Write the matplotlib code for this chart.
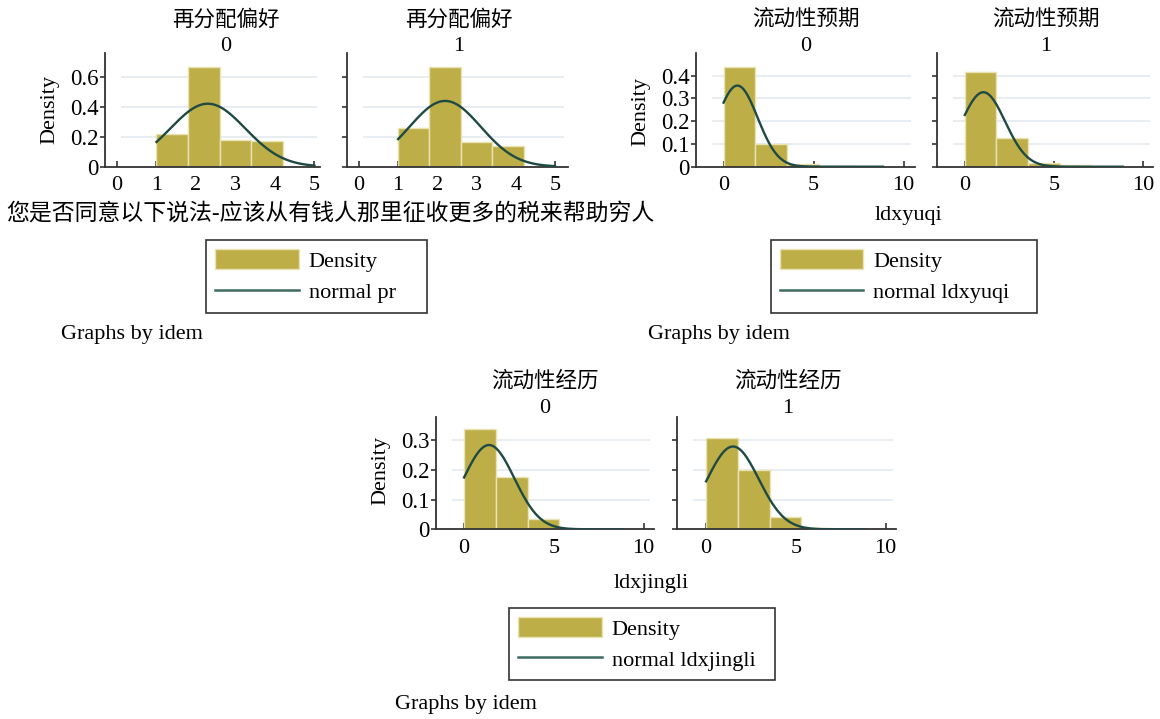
import numpy as np
import matplotlib
matplotlib.use('Agg')
import matplotlib.pyplot as plt
from matplotlib.patches import Patch
from matplotlib.lines import Line2D

plt.rcParams['font.family'] = ['Liberation Serif', 'Noto Sans CJK SC']

W, H = 1160, 719

###########        Data        ###########
#-------------------------------------------------------------#
groups = ['0', '1']

# 再分配偏好 (pr)
pr_title = '再分配偏好'
pr_xlabel = '您是否同意以下说法-应该从有钱人那里征收更多的税来帮助穷人'
pr_edges = [1.0, 1.8, 2.6, 3.4, 4.2, 5.0]
pr_density = [[0.216, 0.667, 0.178, 0.169, 0.0],
              [0.256, 0.667, 0.167, 0.140, 0.0]]
pr_mean = [2.30, 2.20]
pr_sd = [0.95, 0.91]
pr_range = [1.0, 5.0]
pr_xticks = [0, 1, 2, 3, 4, 5]
pr_yticks = [0, 0.2, 0.4, 0.6]

# 流动性预期 (ldxyuqi)
yq_title = '流动性预期'
yq_xlabel = 'ldxyuqi'
yq_edges = [0.0, 1.77, 3.54, 5.31, 7.08, 8.85]
yq_density = [[0.440, 0.100, 0.010, 0.004, 0.003],
              [0.415, 0.125, 0.018, 0.006, 0.0]]
yq_mean = [0.77, 1.04]
yq_sd = [1.12, 1.22]
yq_range = [0.0, 8.85]
yq_xticks = [0, 5, 10]
yq_yticks = [0, 0.1, 0.2, 0.3, 0.4]

# 流动性经历 (ldxjingli)
jl_title = '流动性经历'
jl_xlabel = 'ldxjingli'
jl_edges = [0.0, 1.77, 3.54, 5.31, 7.08, 8.85]
jl_density = [[0.336, 0.177, 0.036, 0.002, 0.002],
              [0.306, 0.199, 0.041, 0.003, 0.002]]
jl_mean = [1.39, 1.50]
jl_sd = [1.41, 1.435]
jl_range = [0.0, 8.85]
jl_xticks = [0, 5, 10]
jl_yticks = [0, 0.1, 0.2, 0.3]

###########              Styling                 ###########
#----------------------------------------------------------#
BAR = '#bdae48'
BAR_EDGE = '#e9e3b4'
CURVE = '#1f4a44'
LEG_LINE = '#3d6b63'
GRID = '#e8edf2'
AXIS = '#333333'
FS = 16


def px_axes(fig, left, top, right, bottom):
    return fig.add_axes([left / W, 1 - bottom / H, (right - left) / W, (bottom - top) / H])


def ftext(fig, x, y, s, **kw):
    kw.setdefault('ha', 'center')
    kw.setdefault('va', 'center')
    return fig.text(x / W, 1 - y / H, s, **kw)


def draw_panel(ax, edges, dens, mu, sd, xr, xlim, ylim, xticks, yticks, labels):
    edges = np.asarray(edges)
    ax.bar(edges[:-1], dens, width=np.diff(edges), align='edge',
           color=BAR, edgecolor=BAR_EDGE, linewidth=1, zorder=2)
    # normal density overlay from the group's mean / sd
    xs = np.linspace(xr[0], xr[1], 300)
    ys = np.exp(-0.5 * ((xs - mu) / sd) ** 2) / (sd * np.sqrt(2 * np.pi))
    ax.plot(xs, ys, color=CURVE, lw=1.7, zorder=3)
    for y in yticks[1:]:
        ax.axhline(y, xmin=0.08, xmax=0.98, color=GRID, lw=1.4, zorder=1)
    ax.set_xlim(*xlim)
    ax.set_ylim(*ylim)
    ax.set_xticks(xticks)
    ax.set_xticklabels([f'{v:g}' for v in xticks])
    ax.set_yticks(yticks)
    ax.set_yticklabels([f'{v:g}' for v in yticks])
    for s in ['top', 'right']:
        ax.spines[s].set_visible(False)
    for s in ['left', 'bottom']:
        ax.spines[s].set_color(AXIS)
        ax.spines[s].set_linewidth(1.3)
    ax.tick_params(axis='x', direction='in', length=4, width=1.2, color=AXIS,
                   labelsize=FS, pad=7)
    ax.tick_params(axis='y', direction='out', length=3.5, width=1.2, color=AXIS,
                   labelsize=FS + 0.5, pad=1, labelleft=labels)
    ax.set_facecolor('none')


def draw_group(fig, boxes, xlims, ylim, edges, density, means, sds, xr,
               xticks, yticks, title, title_x, title_y, dens_xy):
    for i, g in enumerate(groups):
        ax = px_axes(fig, *boxes[i])
        draw_panel(ax, edges, density[i], means[i], sds[i], xr, xlims[i], ylim,
                   xticks, yticks, labels=(i == 0))
        ftext(fig, title_x[i], title_y[0], title, fontsize=15.5)
        ftext(fig, title_x[i], title_y[1], g, fontsize=FS)
    ftext(fig, dens_xy[0], dens_xy[1], 'Density', fontsize=FS, rotation=90)


def draw_legend(fig, box, label):
    left, top, right, bottom = box
    handles = [Patch(facecolor=BAR, edgecolor=BAR_EDGE, linewidth=1),
               Line2D([], [], color=LEG_LINE, lw=1.8)]
    leg = fig.legend(handles, ['Density', label], loc='upper left',
                     bbox_to_anchor=(left / W, 1 - bottom / H, (right - left) / W, (bottom - top) / H),
                     mode='expand', fontsize=FS, frameon=True, fancybox=False,
                     edgecolor='black', handlelength=3.75, handleheight=1.0,
                     handletextpad=0.45, labelspacing=0.4, borderpad=0.42,
                     borderaxespad=0)
    leg.get_frame().set_linewidth(1.2)
    return leg


fig = plt.figure(figsize=(W / 100, H / 100), dpi=100)

###########           再分配偏好 (pr)            ###########
draw_group(fig,
           boxes=[(104.7, 53.3, 320, 166.7), (346.7, 53.3, 567.9, 166.7)],
           xlims=[(-0.31, 5.14), (-0.31, 5.33)], ylim=(0, 0.756),
           edges=pr_edges, density=pr_density, means=pr_mean, sds=pr_sd, xr=pr_range,
           xticks=pr_xticks, yticks=pr_yticks, title=pr_title,
           title_x=[225.7, 458.7], title_y=[20, 46.7], dens_xy=(50, 110))
ftext(fig, 330, 215, pr_xlabel, fontsize=16.5)
draw_legend(fig, (206, 240, 427, 311.7), 'normal pr')
ftext(fig, 61, 335, 'Graphs by idem', fontsize=FS, ha='left')

###########         流动性预期 (ldxyuqi)          ###########
draw_group(fig,
           boxes=[(695.8, 53.3, 914.8, 166.7), (937, 53.3, 1153.4, 166.7)],
           xlims=[(-1.54, 10.62), (-1.56, 10.57)], ylim=(0, 0.498),
           edges=yq_edges, density=yq_density, means=yq_mean, sds=yq_sd, xr=yq_range,
           xticks=yq_xticks, yticks=yq_yticks, title=yq_title,
           title_x=[805.7, 1046.1], title_y=[20, 46.7], dens_xy=(641, 112))
ftext(fig, 908.3, 215, yq_xlabel, fontsize=FS)
draw_legend(fig, (770.7, 240, 1036.7, 311.7), 'normal ldxyuqi')
ftext(fig, 648.3, 335, 'Graphs by idem', fontsize=FS, ha='left')

###########        流动性经历 (ldxjingli)         ###########
draw_group(fig,
           boxes=[(435.7, 416.7, 653.6, 529.3), (676.8, 416.7, 896.4, 529.3)],
           xlims=[(-1.58, 10.56), (-1.63, 10.6)], ylim=(0, 0.378),
           edges=jl_edges, density=jl_density, means=jl_mean, sds=jl_sd, xr=jl_range,
           xticks=jl_xticks, yticks=jl_yticks, title=jl_title,
           title_x=[544.6, 787.5], title_y=[381.7, 408.3], dens_xy=(380.4, 470.8))
ftext(fig, 651.7, 583.3, jl_xlabel, fontsize=FS)
draw_legend(fig, (509, 607.7, 775, 679), 'normal ldxjingli')
ftext(fig, 395, 705, 'Graphs by idem', fontsize=FS, ha='left')

fig.savefig('out.png', dpi=100)
